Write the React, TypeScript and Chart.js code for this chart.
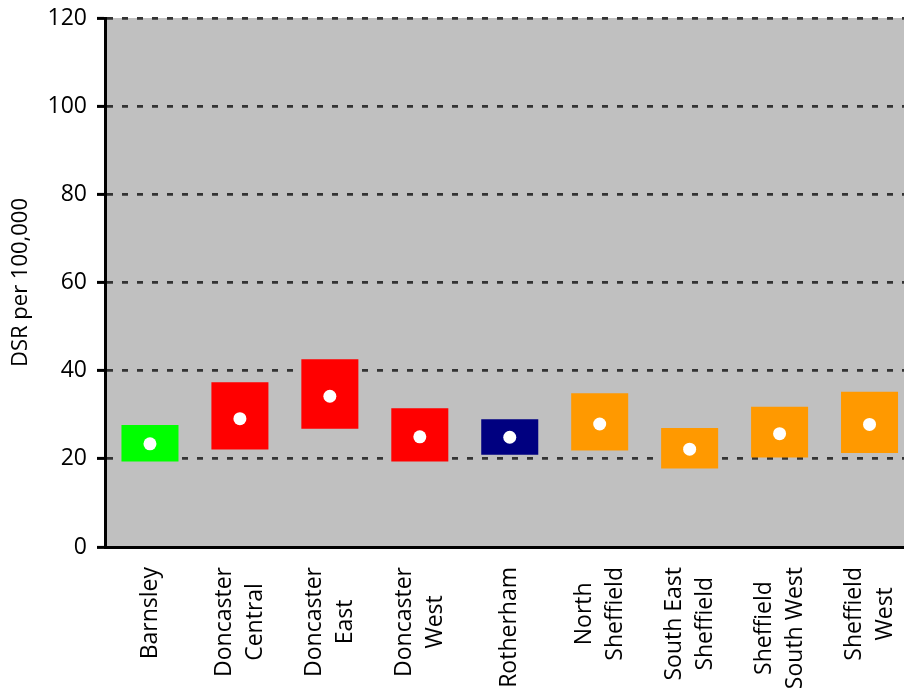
import React, { useEffect, useRef } from "react";
import { Chart, registerables } from "chart.js";

Chart.register(...registerables);

const categories: string[][] = [
  ["Barnsley"],
  ["Doncaster", "Central"],
  ["Doncaster", "East"],
  ["Doncaster", "West"],
  ["Rotherham"],
  ["North", "Sheffield"],
  ["South East", "Sheffield"],
  ["Sheffield", "South West"],
  ["Sheffield", "West"],
];
const lowerCI = [19.4, 22.1, 26.8, 19.4, 20.9, 21.9, 17.8, 20.3, 21.3];
const upperCI = [27.7, 37.4, 42.6, 31.5, 29.0, 34.9, 27.0, 31.8, 35.2];
const rates = [23.4, 29.1, 34.2, 25.0, 24.9, 27.9, 22.2, 25.7, 27.8];
const barColors = [
  "#00FF00",
  "#FF0000",
  "#FF0000",
  "#FF0000",
  "#000080",
  "#FF9900",
  "#FF9900",
  "#FF9900",
  "#FF9900",
];
const yTicks = [0, 20, 40, 60, 80, 100, 120];

const FONT = '"Open Sans", "DejaVu Sans", sans-serif';

const bgPlugin = {
  id: "plotBg",
  beforeDraw(chart: any) {
    const { ctx, chartArea } = chart;
    ctx.save();
    ctx.fillStyle = "#C0C0C0";
    ctx.fillRect(chartArea.left, chartArea.top, chartArea.right - chartArea.left, chartArea.bottom - chartArea.top);
    ctx.restore();
  },
};

const xLabelPlugin = {
  id: "xLabels",
  afterDraw(chart: any) {
    const { ctx } = chart;
    const x = chart.scales.x;
    ctx.save();
    ctx.font = `23px ${FONT}`;
    ctx.fillStyle = "#000";
    ctx.textAlign = "center";
    ctx.textBaseline = "middle";
    const lh = 31;
    categories.forEach((lines, i) => {
      const px = x.getPixelForValue(i);
      const w = Math.max(...lines.map((l) => ctx.measureText(l).width));
      const cy = chart.chartArea.bottom + 20 + w / 2;
      lines.forEach((line, j) => {
        const lx = px + (j - (lines.length - 1) / 2) * lh;
        ctx.save();
        ctx.translate(lx, cy);
        ctx.rotate(-Math.PI / 2);
        ctx.fillText(line, 0, 0);
        ctx.restore();
      });
    });
    ctx.restore();
  },
};

export default function App() {
  const ref = useRef<HTMLCanvasElement | null>(null);

  useEffect(() => {
    if (!ref.current) return;
    const chart = new Chart(ref.current, {
      type: "bar",
      data: {
        labels: categories.map((c) => c.join(" ")),
        datasets: [
          {
            type: "bar",
            data: lowerCI.map((lo, i) => [lo, upperCI[i]]) as any,
            backgroundColor: barColors,
            borderWidth: 0,
            barPercentage: 0.634,
            categoryPercentage: 1,
            order: 2,
          },
          {
            type: "line",
            data: rates,
            showLine: false,
            pointRadius: 6.5,
            pointBackgroundColor: "#FFFFFF",
            pointBorderWidth: 0,
            borderColor: "#FFFFFF",
            order: 1,
          } as any,
        ],
      },
      options: {
        animation: false,
        responsive: false,
        devicePixelRatio: 1,
        layout: { padding: { top: 18, right: 0, left: 0, bottom: 0 } },
        plugins: {
          legend: { display: false },
          tooltip: { enabled: false },
        },
        scales: {
          x: {
            offset: true,
            grid: { display: false, drawTicks: false },
            border: { display: true, color: "#000", width: 3 },
            ticks: { display: false },
            afterFit: (scale: any) => {
              scale.height = 148;
              scale.paddingLeft = 0;
              scale.paddingRight = 0;
            },
          },
          y: {
            min: 0,
            max: 120,
            afterBuildTicks: (scale: any) => {
              scale.ticks = yTicks.map((v) => ({ value: v }));
            },
            ticks: {
              color: "#000",
              font: { family: FONT, size: 23 },
              padding: 10,
            },
            grid: {
              color: "#333333",
              lineWidth: 2.8,
              drawTicks: true,
              tickLength: 8,
              tickColor: "#000",
              tickWidth: 3,
              tickBorderDash: [],
            } as any,
            border: { display: true, color: "#000", width: 3, dash: [6, 9] },
            title: {
              display: true,
              text: "DSR per 100,000",
              color: "#000",
              font: { family: FONT, size: 22 },
              padding: { top: 8, bottom: 0 },
            },
            afterFit: (scale: any) => {
              scale.width = 105;
              scale.paddingTop = 0;
              scale.paddingBottom = 0;
            },
          },
        },
      },
      plugins: [bgPlugin, xLabelPlugin],
    });
    return () => chart.destroy();
  }, []);

  return (
    <div style={{ position: "fixed", left: 0, top: 0, width: 904, height: 695, overflow: "hidden", background: "#fff" }}>
      <canvas ref={ref} width={921} height={695} style={{ position: "absolute", left: 0, top: 0, width: 921, height: 695 }} />
    </div>
  );
}
